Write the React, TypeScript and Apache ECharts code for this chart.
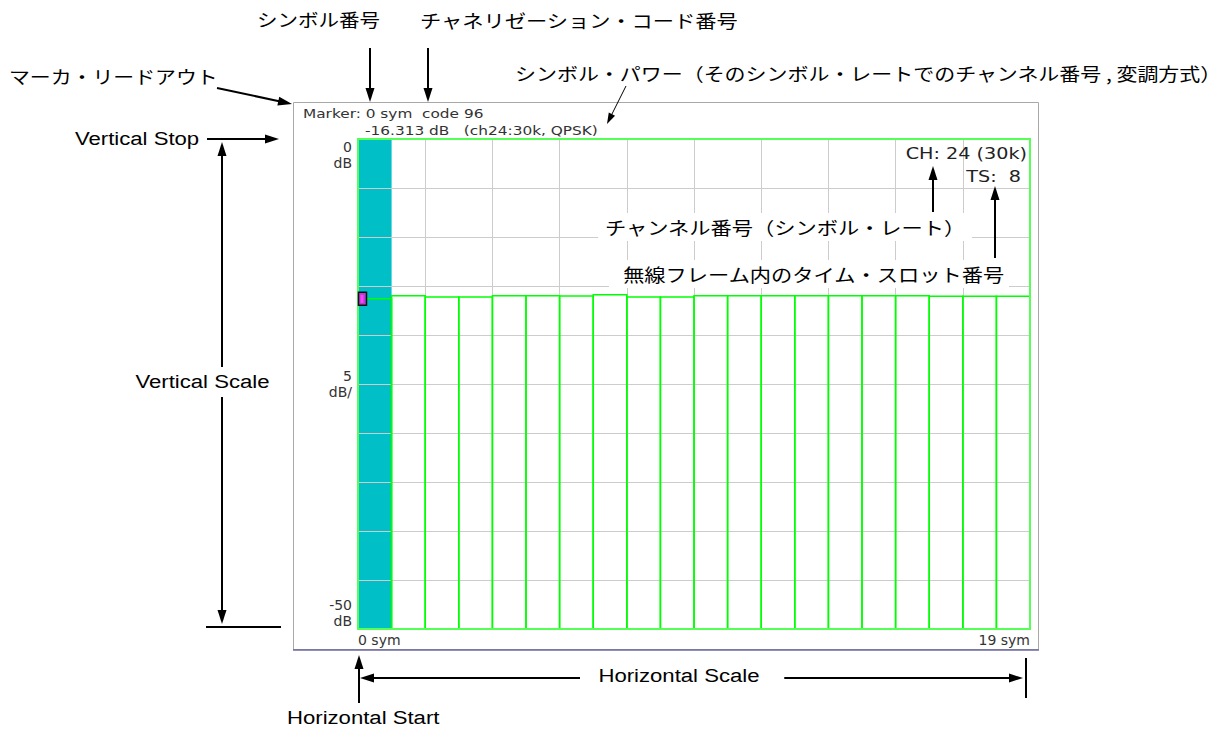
import React, { useEffect, useRef } from "react";
import * as echarts from "echarts";

// ---- data ----
const symbolIndex = [0, 1, 2, 3, 4, 5, 6, 7, 8, 9, 10, 11, 12, 13, 14, 15, 16, 17, 18, 19];
const symbolPowerDb = [
  -16.313, -16.0, -16.12, -16.12, -16.0, -16.0, -16.02, -15.89, -16.12, -16.12,
  -16.0, -16.0, -16.0, -16.0, -16.0, -16.0, -16.0, -16.05, -16.05, -16.05,
];
const markerSymbol = 0;
const markerPowerDb = -16.313;
const yMin = -50;
const yMax = 0;
const yInterval = 5;
const xMin = 0;
const xMax = 20;
const xInterval = 2;
const yLabelMap: Record<string, string> = { "0": "0\ndB", "-25": "5\ndB/", "-50": "-50\ndB" };
const xLabelMap: Record<string, string> = { "0": "0 sym", "20": "19 sym" };

const markerLine1 = "Marker: 0 sym  code 96";
const markerLine2 = "-16.313 dB   (ch24:30k, QPSK)";
const chText = "CH: 24 (30k)";
const tsText = "TS:  8";

const JP = '"Noto Sans CJK JP", sans-serif';
const EN = '"Liberation Sans", Arial, sans-serif';
const INST = '"DejaVu Sans", sans-serif';
const JPS = 1.18; // horizontal stretch of the reference's lettering
const ENS = 1.23;
const INS = 1.18;

function arrow(x1: number, y1: number, x2: number, y2: number, opt: any = {}) {
  const L = opt.len ?? 14;
  const w = opt.half ?? 4.5;
  const lw = opt.lw ?? 2;
  const dx = x2 - x1, dy = y2 - y1;
  const d = Math.hypot(dx, dy);
  const ux = dx / d, uy = dy / d;
  const px = -uy, py = ux;
  const els: any[] = [];
  let sx = x1, sy = y1, ex = x2, ey = y2;
  const head = (tx: number, ty: number, vx: number, vy: number) => {
    const bx = tx - L * vx, by = ty - L * vy;
    return {
      type: "polygon",
      z: 100,
      shape: { points: [[tx, ty], [bx + w * px, by + w * py], [bx - w * px, by - w * py]] },
      style: { fill: "#000" },
    };
  };
  if (opt.end !== false) {
    els.push(head(x2, y2, ux, uy));
    ex = x2 - (L - 2) * ux; ey = y2 - (L - 2) * uy;
  }
  if (opt.start) {
    els.push(head(x1, y1, -ux, -uy));
    sx = x1 + (L - 2) * ux; sy = y1 + (L - 2) * uy;
  }
  els.unshift({
    type: "line",
    z: 99,
    shape: { x1: sx, y1: sy, x2: ex, y2: ey },
    style: { stroke: "#000", lineWidth: lw },
  });
  return els;
}

function label(text: string, x: number, y: number, font: string, extra: any = {}) {
  return {
    type: "text",
    z: 101,
    x,
    y,
    scaleX: extra.scaleX ?? 1,
    style: {
      text,
      x: 0,
      y: 0,
      font,
      fill: extra.fill ?? "#000",
      align: extra.align ?? "left",
      verticalAlign: extra.verticalAlign ?? "middle",
      backgroundColor: extra.bg,
      padding: extra.padding,
    },
  };
}

export default function App() {
  const ref = useRef<HTMLDivElement>(null);
  useEffect(() => {
    if (!ref.current) return;
    const chart = echarts.init(ref.current, undefined, { renderer: "svg" });

    const graphics: any[] = [
      // outer instrument frame
      {
        type: "rect",
        z: 0,
        shape: { x: 293.5, y: 102.5, width: 745, height: 547 },
        style: { fill: "none", stroke: "#a8a8a8", lineWidth: 1 },
      },
      {
        type: "line",
        z: 1,
        shape: { x1: 293, y1: 650, x2: 1039, y2: 650 },
        style: { stroke: "#6a6aa0", lineWidth: 1.5 },
      },
      // instrument texts
      label(markerLine1, 303, 113, `13px ${INST}`, { fill: "#333", scaleX: INS }),
      label(markerLine2, 365, 130, `13px ${INST}`, { fill: "#333", scaleX: INS }),
      label(chText, 1027, 154, `16px ${INST}`, { fill: "#222", align: "right", scaleX: 1.2 }),
      label(tsText, 1021, 177, `16px ${INST}`, { fill: "#222", align: "right", scaleX: 1.2 }),
      // Japanese annotations
      label("シンボル番号", 257, 20, `18px ${JP}`, { scaleX: 1.14 }),
      label("チャネリゼーション・コード番号", 420, 20, `18px ${JP}`, { scaleX: JPS }),
      label("マーカ・リードアウト", 9, 76, `18px ${JP}`, { scaleX: 1.16 }),
      label("シンボル・パワー（そのシンボル・レートでのチャンネル番号 , 変調方式）", 515, 73, `18px ${JP}`, { scaleX: 1.165 }),
      label("チャンネル番号（シンボル・レート）", 598, 227, `18px ${JP}`, { bg: "#fff", padding: [5, 5, 5, 6], scaleX: JPS }),
      label("無線フレーム内のタイム・スロット番号", 609, 274, `18px ${JP}`, { bg: "#fff", padding: [5, 3, 5, 12], scaleX: JPS }),
      // English annotations
      label("Vertical Stop", 75, 139, `18px ${EN}`, { scaleX: ENS }),
      label("Vertical Scale", 133, 382, `18px ${EN}`, { bg: "#fff", padding: [6, 2, 6, 2], scaleX: ENS }),
      label("Horizontal Scale", 580, 676, `18px ${EN}`, { bg: "#fff", padding: [4, 20, 4, 15], scaleX: ENS }),
      label("Horizontal Start", 287, 718, `18px ${EN}`, { scaleX: ENS }),
      // arrows
      ...arrow(370, 48, 370, 102),
      ...arrow(428, 48, 428, 102),
      ...arrow(217, 88, 292, 104),
      ...arrow(626, 86, 607, 124, { lw: 1, len: 11, half: 3.5 }),
      ...arrow(207, 139, 279, 139),
      ...arrow(222, 142, 222, 624, { start: true }),
      {
        type: "line",
        z: 99,
        shape: { x1: 206, y1: 627, x2: 281, y2: 627 },
        style: { stroke: "#000", lineWidth: 2 },
      },
      ...arrow(933, 212, 933, 166),
      ...arrow(995, 258, 995, 186),
      ...arrow(359, 703, 359, 655),
      ...arrow(360, 678, 1023, 678, { start: true }),
      {
        type: "line",
        z: 99,
        shape: { x1: 1026, y1: 658, x2: 1026, y2: 698 },
        style: { stroke: "#000", lineWidth: 2 },
      },
    ];
    const option: any = {
      animation: false,
      backgroundColor: "#fff",
      grid: {
        left: 358,
        top: 139,
        width: 672,
        height: 490,
        show: true,
        borderColor: "#55ff55",
        borderWidth: 2,
        z: 4,
      },
      xAxis: {
        type: "value",
        min: xMin,
        max: xMax,
        interval: xInterval,
        z: 2,
        axisLine: { show: false },
        axisTick: { show: false },
        splitLine: { show: true, lineStyle: { color: "#cccccc", width: 1 } },
        axisLabel: {
          show: true,
          showMinLabel: true,
          showMaxLabel: true,
          alignMinLabel: "left",
          alignMaxLabel: "right",
          margin: 4,
          color: "#333",
          fontSize: 14,
          fontFamily: "DejaVu Sans",
          formatter: (v: number) => xLabelMap[String(v)] ?? "",
        },
      },
      yAxis: {
        type: "value",
        min: yMin,
        max: yMax,
        interval: yInterval,
        z: 2,
        axisLine: { show: false },
        axisTick: { show: false },
        splitLine: { show: true, lineStyle: { color: "#cccccc", width: 1 } },
        axisLabel: {
          show: true,
          showMinLabel: true,
          showMaxLabel: true,
          margin: 6,
          color: "#333",
          fontSize: 14,
          lineHeight: 16,
          fontFamily: "DejaVu Sans",
          verticalAlignMinLabel: "bottom",
          verticalAlignMaxLabel: "top",
          formatter: (v: number) => yLabelMap[String(v)] ?? "",
        },
      },
      series: [
        {
          type: "custom",
          name: "selected",
          z: 1,
          data: [[markerSymbol]],
          renderItem: (params: any, api: any) => {
            const i = api.value(0);
            const p0 = api.coord([i, yMax]);
            const p1 = api.coord([i + 1, yMin]);
            return {
              type: "rect",
              shape: { x: p0[0], y: p0[1], width: p1[0] - p0[0], height: p1[1] - p0[1] },
              style: { fill: "#00bfc6" },
            };
          },
        },
        {
          type: "custom",
          name: "symbol power",
          z: 3,
          data: symbolIndex.map((s, k) => [s, symbolPowerDb[k]]),
          renderItem: (params: any, api: any) => {
            const i = api.value(0);
            const v = api.value(1);
            const p0 = api.coord([i, v]);
            const p1 = api.coord([i + 1, yMin]);
            return {
              type: "rect",
              shape: { x: p0[0], y: p0[1], width: p1[0] - p0[0], height: p1[1] - p0[1] },
              style: { fill: "none", stroke: "#00ff00", lineWidth: 1.5 },
            };
          },
        },
        {
          type: "custom",
          name: "marker",
          z: 5,
          data: [[markerSymbol, markerPowerDb]],
          renderItem: (params: any, api: any) => {
            const p = api.coord([api.value(0), api.value(1)]);
            return {
              type: "group",
              children: [
                {
                  type: "rect",
                  shape: { x: p[0] + 0.5, y: p[1] - 6.5, width: 8, height: 13 },
                  style: { fill: "#b040d0", stroke: "#111", lineWidth: 1.5 },
                },
                {
                  type: "rect",
                  shape: { x: p[0] + 2.5, y: p[1] - 4, width: 3, height: 8 },
                  style: { fill: "#ff40ff" },
                },
              ],
            };
          },
        },
      ],
      graphic: { elements: graphics },
    };
    chart.setOption(option);
    return () => chart.dispose();
  }, []);
  return (
    <div
      ref={ref}
      style={{ position: "absolute", left: 0, top: 0, width: 1228, height: 729 }}
    />
  );
}
